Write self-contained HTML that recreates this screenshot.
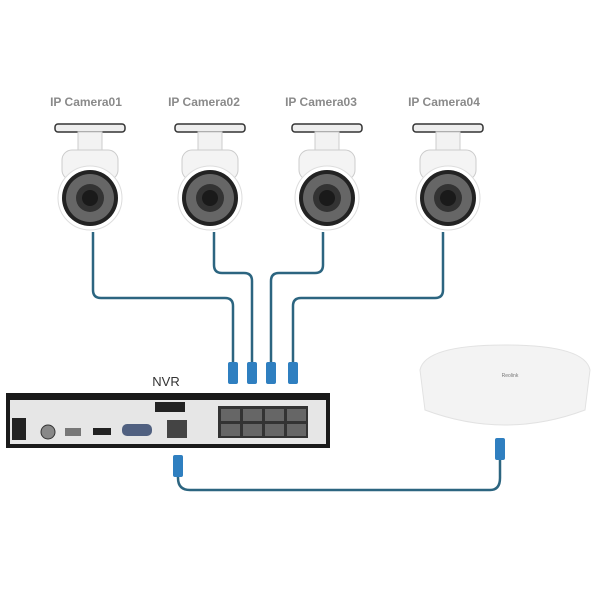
<!DOCTYPE html><html><head><style>body{margin:0;background:#fff}</style></head><body>
<svg width="600" height="600" viewBox="0 0 600 600" xmlns="http://www.w3.org/2000/svg" font-family="Liberation Sans, sans-serif">
<rect width="600" height="600" fill="#fff"/>
<g font-size="12" font-weight="bold" fill="#8a8a8a" text-anchor="middle">
<text x="86" y="106">IP Camera01</text><text x="204" y="106">IP Camera02</text><text x="321" y="106">IP Camera03</text><text x="444" y="106">IP Camera04</text>
</g>
<g fill="none" stroke="#2c6580" stroke-width="2.5">
<path d="M93 232 V290 Q93 298 101 298 H225 Q233 298 233 306 V362"/>
<path d="M214 232 V265 Q214 273 222 273 H244 Q252 273 252 281 V362"/>
<path d="M323 232 V265 Q323 273 315 273 H279 Q271 273 271 281 V362"/>
<path d="M443 232 V290 Q443 298 435 298 H301 Q293 298 293 306 V362"/>
<path d="M178 455 V478 Q178 490 190 490 H490 Q500 490 500 478 V455"/>
</g>
<g fill="#2f7fc0">
<rect x="228" y="362" width="10" height="22" rx="2"/><rect x="247" y="362" width="10" height="22" rx="2"/>
<rect x="266" y="362" width="10" height="22" rx="2"/><rect x="288" y="362" width="10" height="22" rx="2"/>
<rect x="173" y="455" width="10" height="22" rx="2"/><rect x="495" y="438" width="10" height="22" rx="2"/>
</g>
<defs><g id="cam">
<rect x="-35" y="124" width="70" height="8" rx="3" fill="#eee" stroke="#333" stroke-width="1.5"/>
<rect x="-12" y="132" width="24" height="26" fill="#f2f2f2" stroke="#ccc"/>
<rect x="-28" y="150" width="56" height="30" rx="10" fill="#f4f4f4" stroke="#ccc"/>
<circle cx="0" cy="198" r="32" fill="#fff" stroke="#ddd"/>
<circle cx="0" cy="198" r="28" fill="#222"/>
<circle cx="0" cy="198" r="24" fill="#666"/>
<circle cx="0" cy="198" r="14" fill="#333"/>
<circle cx="0" cy="198" r="8" fill="#1a1a1a"/>
</g></defs>
<use href="#cam" x="90"/><use href="#cam" x="210"/><use href="#cam" x="327"/><use href="#cam" x="448"/>
<text x="166" y="386" font-size="13" fill="#333" text-anchor="middle">NVR</text>
<rect x="6" y="393" width="324" height="55" fill="#1a1a1a"/>
<rect x="10" y="400" width="316" height="44" fill="#e6e6e6"/>
<rect x="12" y="418" width="14" height="22" fill="#222"/>
<circle cx="48" cy="432" r="7" fill="#888" stroke="#333"/>
<rect x="65" y="428" width="16" height="8" fill="#777"/>
<rect x="93" y="428" width="18" height="7" fill="#222"/>
<rect x="122" y="424" width="30" height="12" rx="5" fill="#506080"/>
<rect x="167" y="420" width="20" height="18" fill="#444"/>
<rect x="155" y="402" width="30" height="10" fill="#222"/>
<rect x="218" y="406" width="90" height="32" fill="#333"/>
<g fill="#666"><rect x="221" y="409" width="19" height="12"/><rect x="243" y="409" width="19" height="12"/><rect x="265" y="409" width="19" height="12"/><rect x="287" y="409" width="19" height="12"/>
<rect x="221" y="424" width="19" height="12"/><rect x="243" y="424" width="19" height="12"/><rect x="265" y="424" width="19" height="12"/><rect x="287" y="424" width="19" height="12"/></g>
<path d="M420 370 Q425 345 505 345 Q585 345 590 370 L585 410 Q505 440 425 410 Z" fill="#f3f3f3" stroke="#e2e2e2"/>
<text x="510" y="377" font-size="5" fill="#777" text-anchor="middle">Reolink</text>
</svg></body></html>
